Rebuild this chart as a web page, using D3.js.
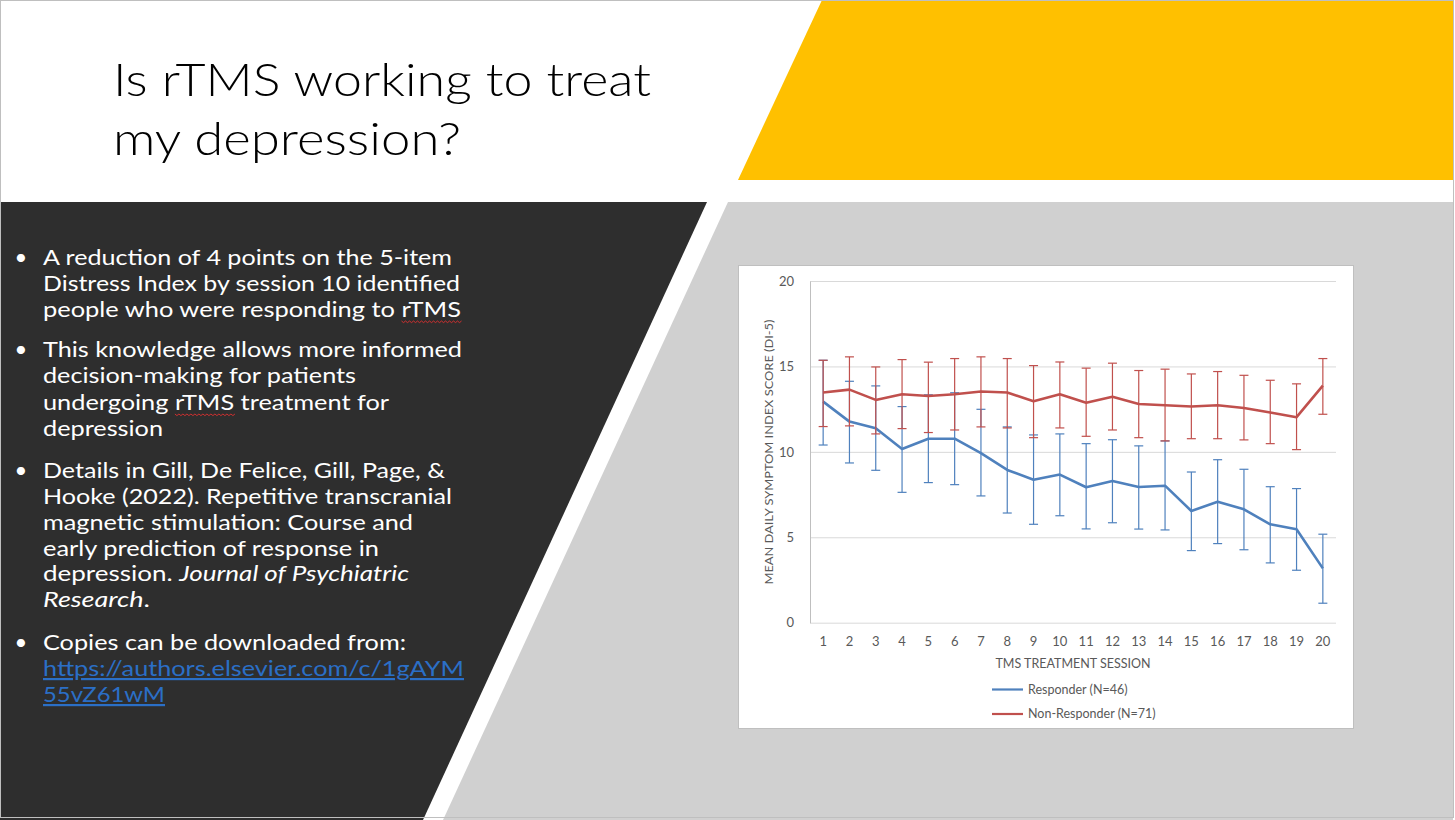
<!DOCTYPE html>
<html lang="en">
<head>
<meta charset="UTF-8" />
<title>Is rTMS working to treat my depression?</title>
<script src="https://cdn.jsdelivr.net/npm/d3@7"></script>
<style>
body { margin: 0; background: #fff; }
svg { display: block; }
.bullet text { fill: #fff; font-family: Lato, "Open Sans", sans-serif; font-size: 22px; }
.chart text { font-family: Lato, "Open Sans", sans-serif; fill: #595959; }
</style>
</head>
<body>
<svg id="slide" width="1455" height="820"></svg>
<script>
// chart data (mean and SD bar ends)
const sessions = ["1","2","3","4","5","6","7","8","9","10","11","12","13","14","15","16","17","18","19","20"];
const responderMean = [12.94, 11.77, 11.38, 10.17, 10.77, 10.77, 9.92, 8.94, 8.37, 8.67, 7.93, 8.30, 7.94, 8.02, 6.54, 7.08, 6.64, 5.76, 5.47, 3.18];
const responderLow  = [10.40, 9.35, 8.92, 7.63, 8.20, 8.08, 7.42, 6.42, 5.76, 6.26, 5.49, 5.85, 5.48, 5.43, 4.22, 4.63, 4.27, 3.50, 3.07, 1.14];
const responderHigh = [15.36, 14.13, 13.86, 12.65, 13.34, 13.46, 12.49, 11.46, 10.99, 11.05, 10.48, 10.71, 10.35, 10.64, 8.82, 9.54, 8.98, 7.96, 7.85, 5.18];
const nonRespMean = [13.47, 13.64, 13.04, 13.37, 13.27, 13.37, 13.53, 13.47, 12.96, 13.37, 12.88, 13.23, 12.80, 12.73, 12.65, 12.73, 12.57, 12.30, 12.03, 13.88];
const nonRespLow  = [11.48, 11.52, 11.05, 11.36, 11.13, 11.28, 11.46, 11.40, 10.83, 11.40, 10.91, 11.28, 10.83, 10.64, 10.77, 10.77, 10.70, 10.48, 10.13, 12.20];
const nonRespHigh = [15.36, 15.56, 14.97, 15.40, 15.25, 15.46, 15.56, 15.46, 15.05, 15.26, 14.90, 15.19, 14.76, 14.84, 14.56, 14.70, 14.48, 14.19, 13.98, 15.46];
const yTicks = [0, 5, 10, 15, 20];
const seriesNames = ["Responder (N=46)", "Non-Responder (N=71)"];

const svg = d3.select('#slide');

// slide background shapes
svg.append('polygon').attr('points', '822,0 1453,0 1453,180 738,180').attr('fill', '#FFC000');
svg.append('polygon').attr('points', '0,202 707,202 423,820 0,820').attr('fill', '#2E2E2E');
svg.append('polygon').attr('points', '728,202 1453,202 1453,820 443,820').attr('fill', '#D0D0D0');
svg.append('rect').attr('x', 0.5).attr('y', 0.5).attr('width', 1453).attr('height', 817)
  .attr('fill', 'none').attr('stroke', '#bfbfbf');

// title
const title = svg.append('g').attr('font-family', 'Lato, "Open Sans", sans-serif')
  .attr('font-weight', 300).attr('font-size', 46).attr('fill', '#000');
title.append('text').attr('x', 113).attr('y', 96).attr('textLength', 538).attr('lengthAdjust', 'spacingAndGlyphs')
  .text('Is rTMS working to treat');
title.append('text').attr('x', 113).attr('y', 155).attr('textLength', 348).attr('lengthAdjust', 'spacingAndGlyphs')
  .text('my depression?');

// bullets: each line is [parts, baseline, width]
const bullets = [
  [[[['A reduction of 4 points on the 5-item']], 265, 409],
   [[['Distress Index by session 10 identified']], 291, 417],
   [[['people who were responding to '], ['rTMS', 'squig']], 317, 418]],
  [[[['This knowledge allows more informed']], 357, 419],
   [[['decision-making for patients']], 383, 313],
   [[['undergoing '], ['rTMS', 'squig'], [' treatment for']], 410, 346],
   [[['depression']], 436, 120]],
  [[[['Details in Gill, De Felice, Gill, Page, &']], 478, 402],
   [[['Hooke (2022). Repetitive transcranial']], 504, 409],
   [[['magnetic stimulation: Course and']], 530, 370],
   [[['early prediction of response in']], 556, 336],
   [[['depression. '], ['Journal of Psychiatric', 'ital']], 581, 366],
   [[['Research', 'ital'], ['.']], 607, 107]],
  [[[['Copies can be downloaded from:']], 650, 363],
   [[['https://authors.elsevier.com/c/1gAYM', 'link']], 676, 421],
   [[['55vZ61wM', 'link']], 702, 122]]
];
const bg = svg.append('g').attr('class', 'bullet');
const squigs = [];
bullets.forEach(lines => {
  bg.append('text').attr('x', 21).attr('y', lines[0][1]).attr('text-anchor', 'middle').text('•');
  lines.forEach(([parts, y, w]) => {
    const t = bg.append('text').attr('x', 43).attr('y', y).attr('textLength', w).attr('lengthAdjust', 'spacingAndGlyphs');
    parts.forEach(([s, cls]) => {
      const ts = t.append('tspan').text(s);
      if (cls === 'ital') ts.attr('font-style', 'italic');
      if (cls === 'squig') squigs.push({ node: ts.node(), y: y });
      if (cls === 'link') ts.style('fill', '#2B6FC6').style('text-decoration', 'underline');
    });
  });
});
// spell-check squiggles under rTMS
squigs.forEach(s => {
  const b = s.node.getBBox();
  let d = `M${b.x},${s.y + 4}`;
  for (let xx = b.x, k = 0; xx < b.x + b.width; xx += 2, k++) d += `L${xx + 2},${s.y + (k % 2 ? 4 : 5.6)}`;
  bg.append('path').attr('d', d).attr('fill', 'none').attr('stroke', '#e03030').attr('stroke-width', 0.9);
});

// chart box
const chart = svg.append('g').attr('class', 'chart');
chart.append('rect').attr('x', 738.5).attr('y', 265.5).attr('width', 615).attr('height', 463)
  .attr('fill', '#fff').attr('stroke', '#bfbfbf');

const margin = { left: 810, right: 1336, top: 281, bottom: 622.7 };
const x = d3.scaleBand().domain(sessions).range([margin.left, margin.right]);
const y = d3.scaleLinear().domain([0, 20]).range([margin.bottom, margin.top]);
const cx = d => x(d) + x.bandwidth() / 2;

// gridlines
const grid = chart.append('g').attr('transform', `translate(${margin.left},0)`)
  .call(d3.axisLeft(y).tickValues(yTicks).tickSize(-(margin.right - margin.left)).tickFormat(''));
grid.select('.domain').remove();
grid.selectAll('line').attr('stroke', '#d9d9d9').attr('stroke-width', 1);

// y axis
const ya = chart.append('g').attr('transform', `translate(${margin.left},0)`)
  .call(d3.axisLeft(y).tickValues(yTicks).tickSize(0).tickPadding(16));
ya.select('.domain').attr('stroke', '#bfbfbf');
ya.selectAll('text').attr('font-size', 13).attr('fill', '#595959').attr('font-family', 'Lato, "Open Sans", sans-serif');

// x axis
const xa = chart.append('g').attr('transform', `translate(0,${margin.bottom})`)
  .call(d3.axisBottom(x).tickSize(0).tickPadding(14));
xa.select('.domain').remove();
xa.selectAll('text').attr('font-size', 13).attr('fill', '#595959').attr('font-family', 'Lato, "Open Sans", sans-serif');

chart.append('text').attr('x', 1073).attr('y', 668).attr('text-anchor', 'middle').attr('font-size', 12.5)
  .text('TMS TREATMENT SESSION');
chart.append('text').attr('transform', 'translate(773,452) rotate(-90)').attr('text-anchor', 'middle')
  .attr('font-size', 12).attr('textLength', 265).attr('lengthAdjust', 'spacingAndGlyphs')
  .text('MEAN DAILY SYMPTOM INDEX SCORE (DI-5)');

// series
const series = [
  { name: seriesNames[0], mean: responderMean, low: responderLow, high: responderHigh, color: '#4F81BD' },
  { name: seriesNames[1], mean: nonRespMean, low: nonRespLow, high: nonRespHigh, color: '#C0504D' }
];
const line = d3.line().x(d => cx(d.s)).y(d => y(d.m));
const cap = 4.5;
series.forEach(sr => {
  const pts = sessions.map((s, i) => ({ s, m: sr.mean[i], lo: sr.low[i], hi: sr.high[i] }));
  const g = chart.append('g');
  const eb = g.selectAll('g.eb').data(pts).enter().append('g').attr('class', 'eb')
    .attr('stroke', sr.color).attr('stroke-width', 1.2);
  eb.append('line').attr('x1', d => cx(d.s)).attr('x2', d => cx(d.s)).attr('y1', d => y(d.lo)).attr('y2', d => y(d.hi));
  eb.append('line').attr('x1', d => cx(d.s) - cap).attr('x2', d => cx(d.s) + cap).attr('y1', d => y(d.lo)).attr('y2', d => y(d.lo));
  eb.append('line').attr('x1', d => cx(d.s) - cap).attr('x2', d => cx(d.s) + cap).attr('y1', d => y(d.hi)).attr('y2', d => y(d.hi));
  g.append('path').datum(pts).attr('d', line).attr('fill', 'none').attr('stroke', sr.color)
    .attr('stroke-width', 2.6).attr('stroke-linejoin', 'round');
});

// legend
const lg = chart.selectAll('g.lg').data(series).enter().append('g').attr('class', 'lg')
  .attr('transform', (d, i) => `translate(992,${689.5 + i * 24.5})`);
lg.append('line').attr('x1', 0).attr('x2', 31).attr('stroke', d => d.color).attr('stroke-width', 2.2);
lg.append('text').attr('x', 36).attr('dy', '0.35em').attr('font-size', 12.5).attr('fill', '#404040').text(d => d.name);
</script>
</body>
</html>
